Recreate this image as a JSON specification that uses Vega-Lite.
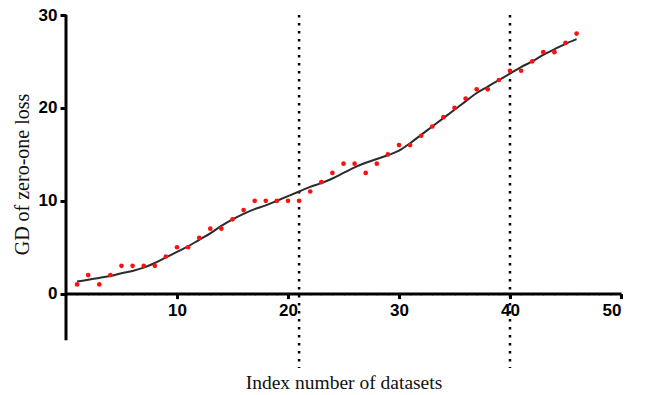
{
  "$schema": "https://vega.github.io/schema/vega-lite/v6.json",
  "autosize": {"type": "none"},
  "width": 555,
  "height": 353,
  "padding": {"left": 66, "top": 15, "right": 24, "bottom": 27},
  "background": "white",
  "config": {"view": {"stroke": null}},
  "datasets": {
    "points": [
      {"index": 1, "gd": 1}, {"index": 2, "gd": 2}, {"index": 3, "gd": 1}, {"index": 4, "gd": 2},
      {"index": 5, "gd": 3}, {"index": 6, "gd": 3}, {"index": 7, "gd": 3}, {"index": 8, "gd": 3},
      {"index": 9, "gd": 4}, {"index": 10, "gd": 5}, {"index": 11, "gd": 5}, {"index": 12, "gd": 6},
      {"index": 13, "gd": 7}, {"index": 14, "gd": 7}, {"index": 15, "gd": 8}, {"index": 16, "gd": 9},
      {"index": 17, "gd": 10}, {"index": 18, "gd": 10}, {"index": 19, "gd": 10}, {"index": 20, "gd": 10},
      {"index": 21, "gd": 10}, {"index": 22, "gd": 11}, {"index": 23, "gd": 12}, {"index": 24, "gd": 13},
      {"index": 25, "gd": 14}, {"index": 26, "gd": 14}, {"index": 27, "gd": 13}, {"index": 28, "gd": 14},
      {"index": 29, "gd": 15}, {"index": 30, "gd": 16}, {"index": 31, "gd": 16}, {"index": 32, "gd": 17},
      {"index": 33, "gd": 18}, {"index": 34, "gd": 19}, {"index": 35, "gd": 20}, {"index": 36, "gd": 21},
      {"index": 37, "gd": 22}, {"index": 38, "gd": 22}, {"index": 39, "gd": 23}, {"index": 40, "gd": 24},
      {"index": 41, "gd": 24}, {"index": 42, "gd": 25}, {"index": 43, "gd": 26}, {"index": 44, "gd": 26},
      {"index": 45, "gd": 27}, {"index": 46, "gd": 28}
    ],
    "curve": [
      {"index": 1, "fit": 1.3}, {"index": 2, "fit": 1.5}, {"index": 3, "fit": 1.7}, {"index": 4, "fit": 1.9},
      {"index": 5, "fit": 2.2}, {"index": 6, "fit": 2.45}, {"index": 7, "fit": 2.8}, {"index": 8, "fit": 3.3},
      {"index": 9, "fit": 3.9}, {"index": 10, "fit": 4.5}, {"index": 11, "fit": 5.1}, {"index": 12, "fit": 5.8},
      {"index": 13, "fit": 6.5}, {"index": 14, "fit": 7.3}, {"index": 15, "fit": 8.0}, {"index": 16, "fit": 8.6},
      {"index": 17, "fit": 9.1}, {"index": 18, "fit": 9.5}, {"index": 19, "fit": 10.0}, {"index": 20, "fit": 10.5},
      {"index": 21, "fit": 11.0}, {"index": 22, "fit": 11.5}, {"index": 23, "fit": 11.9}, {"index": 24, "fit": 12.4},
      {"index": 25, "fit": 13.0}, {"index": 26, "fit": 13.6}, {"index": 27, "fit": 14.1}, {"index": 28, "fit": 14.5},
      {"index": 29, "fit": 14.9}, {"index": 30, "fit": 15.4}, {"index": 31, "fit": 16.2}, {"index": 32, "fit": 17.1},
      {"index": 33, "fit": 18.0}, {"index": 34, "fit": 18.9}, {"index": 35, "fit": 19.8}, {"index": 36, "fit": 20.7},
      {"index": 37, "fit": 21.6}, {"index": 38, "fit": 22.3}, {"index": 39, "fit": 23.0}, {"index": 40, "fit": 23.7},
      {"index": 41, "fit": 24.4}, {"index": 42, "fit": 25.0}, {"index": 43, "fit": 25.7}, {"index": 44, "fit": 26.3},
      {"index": 45, "fit": 26.9}, {"index": 46, "fit": 27.4}
    ],
    "splits": [{"index": 21}, {"index": 40}],
    "yaxisline": [{"from": -5, "to": 30, "at": 0}]
  },
  "resolve": {"axis": {"x": "independent", "y": "independent"}},
  "layer": [
    {
      "data": {"name": "splits"},
      "mark": {"type": "rule", "color": "black", "strokeWidth": 2.5, "strokeDash": [2.5, 5.5]},
      "encoding": {
        "x": {"field": "index", "type": "quantitative", "scale": {"domain": [0, 50], "nice": false, "zero": false}, "axis": null}
      }
    },
    {
      "data": {"name": "yaxisline"},
      "mark": {"type": "rule", "color": "black", "strokeWidth": 3},
      "encoding": {
        "x": {"field": "at", "type": "quantitative", "axis": null},
        "y": {"field": "from", "type": "quantitative", "axis": null},
        "y2": {"field": "to"}
      }
    },
    {
      "data": {"name": "curve"},
      "mark": {"type": "line", "color": "#2b2b2b", "strokeWidth": 2, "interpolate": "monotone"},
      "encoding": {
        "x": {"field": "index", "type": "quantitative", "axis": null},
        "y": {"field": "fit", "type": "quantitative", "axis": null}
      }
    },
    {
      "data": {"name": "points"},
      "mark": {"type": "circle", "color": "#ff1010", "opacity": 1, "size": 22},
      "encoding": {
        "x": {
          "field": "index", "type": "quantitative",
          "scale": {"domain": [0, 50], "nice": false, "zero": false},
          "axis": {
            "title": "Index number of datasets",
            "titleFont": "Liberation Serif", "titleFontSize": 19.5, "titleFontWeight": "normal", "titleColor": "#111",
            "titleY": 89, "titleBaseline": "middle",
            "values": [1,2,3,4,5,6,7,8,9,10,11,12,13,14,15,16,17,18,19,20,21,22,23,24,25,26,27,28,29,30,31,32,33,34,35,36,37,38,39,40,41,42,43,44,45,46,47,48,49,50],
            "labelExpr": "datum.value % 10 === 0 ? datum.label : ''",
            "labelFont": "Liberation Sans", "labelFontWeight": "bold", "labelFontSize": 17, "labelColor": "black",
            "labelPadding": 4,
            "offset": -74.4,
            "domainColor": "black", "domainWidth": 3,
            "tickColor": {"condition": {"test": "datum.value % 10 === 0", "value": "black"}, "value": "#aaaaaa"},
            "tickWidth": {"condition": {"test": "datum.value % 10 === 0", "value": 3}, "value": 1},
            "tickSize": {"condition": {"test": "datum.value % 10 === 0", "value": 5}, "value": 2},
            "grid": false
          }
        },
        "y": {
          "field": "gd", "type": "quantitative",
          "scale": {"domain": [-8, 30], "nice": false, "zero": false},
          "axis": {
            "title": "GD of zero-one loss",
            "titleFont": "Liberation Serif", "titleFontSize": 20, "titleFontWeight": "normal", "titleColor": "#111",
            "titleX": -44, "titleY": 159, "titleAngle": -90, "titleBaseline": "middle", "titleAlign": "center",
            "values": [0, 10, 20, 30],
            "labelFont": "Liberation Sans", "labelFontWeight": "bold", "labelFontSize": 17, "labelColor": "black",
            "labelPadding": 3,
            "domain": false,
            "tickColor": "black", "tickWidth": 3, "tickSize": 6,
            "grid": false
          }
        }
      }
    }
  ]
}
